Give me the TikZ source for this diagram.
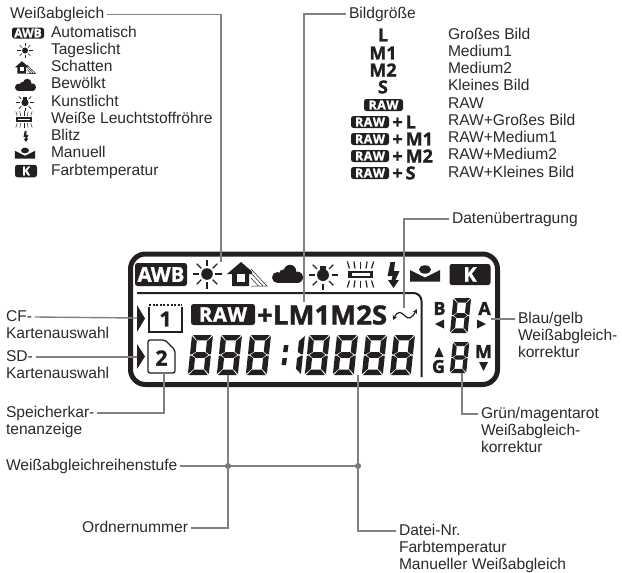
\documentclass[tikz,border=0pt]{standalone}
\usepackage{fontspec}
\usepackage{graphicx}
\setmainfont{Liberation Sans}
\newfontfamily\lcdfont{Open Sans}[BoldFeatures={FakeBold=1.4}]
\definecolor{lcdink}{HTML}{231F20}
\definecolor{leadgrey}{HTML}{808080}
\definecolor{labelink}{HTML}{2A2A2A}
\usetikzlibrary{arrows.meta, positioning}
\newcommand{\segA}{\fill (1,0)--(19,0)--(14.6,5.4)--(5.4,5.4)--cycle;}
\newcommand{\segB}{\fill (20,1)--(20,19)--(18.6,19.5)--(14.8,16.9)--(14.8,6.2)--cycle;}
\newcommand{\segC}{\fill (20,21)--(20,39)--(14.8,33.8)--(14.8,23.1)--(18.6,20.5)--cycle;}
\newcommand{\segD}{\fill (1,40)--(19,40)--(14.6,34.6)--(5.4,34.6)--cycle;}
\newcommand{\segE}{\fill (0,21)--(0,39)--(5.2,33.8)--(5.2,23.1)--(1.4,20.5)--cycle;}
\newcommand{\segF}{\fill (0,1)--(0,19)--(1.4,19.5)--(5.2,16.9)--(5.2,6.2)--cycle;}
\newcommand{\segG}{\fill (2.4,20)--(5.9,17.2)--(14.1,17.2)--(17.6,20)--(14.1,22.8)--(5.9,22.8)--cycle;}
\newcommand{\rawword}{R\kern.04em A\kern.04em W}
\begin{document}
\begin{tikzpicture}[
  x=1pt, y=-1pt,
  lbl/.style={
    font=\fontsize{15.6}{17}\selectfont, text=labelink,
    inner ysep=0pt, inner xsep=0pt, outer xsep=3pt, outer ysep=0pt,
    text height=11.4pt, text depth=3.2pt, minimum height=17.25pt, anchor=west
  },
  under/.style={lbl, below=0pt of #1.south west, anchor=north west},
  lcdtxt/.style={
    font=\lcdfont\bfseries\fontsize{#1}{#1}\selectfont,
    inner sep=0pt, text=lcdink
  },
  inverse/.style={
    rectangle, rounded corners=2.5pt, fill=lcdink, text=white,
    inner sep=0pt, font=\lcdfont\bfseries\fontsize{#1}{#1}\selectfont
  },
  lead/.style={leadgrey, line width=1.4pt},
  joint/.style={circle, fill=leadgrey!85!black, inner sep=0pt, minimum size=6pt},
  pics/lcdeight/.style={code={
    \begin{scope}[xslant=0.1, fill=lcdink]
      \segA \segB \segC \segD \segE \segF \segG
    \end{scope}}},
  pics/lcdone/.style={code={
    \begin{scope}[xslant=0.1, fill=lcdink]
      \segB \segC
    \end{scope}}},
  pics/sunicon/.style={code={
    \fill[lcdink] (0,0) circle (5.8);
    \foreach \a in {0,45,...,315}
      \draw[lcdink] (\a:8) -- (\a:14.5);}},
  pics/bulbicon/.style={code={
    \fill[lcdink] (0,1) circle (6);
    \fill[lcdink] (-2.8,-8) rectangle (2.8,0);
    \foreach \a in {-45,0,45,90,135,180,225}
      \draw[lcdink] ([shift={(0,1)}]\a:8.5) -- ([shift={(0,1)}]\a:14.5);}},
  pics/houseicon/.style={code={
    \fill[lcdink] (-14,-1)--(0,-13)--(11,-3.5)--(11,-1)--(8,-1)--(8,11)--(-9,11)--(-9,-1)--cycle;
    \fill[white] (-4.5,-1) rectangle (3.5,6.5);
    \draw[lcdink, line width=.5pt] (10,-6)--(26,11)--(10,11) (10,-2)--(22,11) (10,3)--(17.5,11);}},
  pics/cloudicon/.style={code={
    \fill[lcdink] (2.5,-3) circle (6.2);
    \fill[lcdink] (-4,0) circle (4.6);
    \fill[lcdink] (-10,3.5) circle (5.5);
    \fill[lcdink] (9.8,3.3) circle (5.7);
    \fill[lcdink] (-10,1) rectangle (9.8,9);}},
  pics/tubeicon/.style={code={
    \draw[lcdink, fill=white, line width=1.2pt] (-12,-2.5) rectangle (12,2.5);
    \fill[lcdink] (-12,-2.5) rectangle (-9,2.5);
    \fill[lcdink] (9,-2.5) rectangle (12,2.5);
    \foreach \a in {-11,-5.5,0,5.5,11}
      \draw[lcdink] (\a,-6) -- (\a*1.2,-13) (\a,6) -- (\a*1.2,13);}},
  pics/flashicon/.style={code={
    \fill[lcdink] (-3,-13)--(-6,1)--(-1,1)--(-2,5)--(-5.5,5)--(0,13)--(5.5,5)--(2,5)--(6,-4)--(0.5,-4)--(1.5,-13)--cycle;}},
  pics/manualicon/.style={code={
    \fill[lcdink] (0,-4.5) ellipse (6 and 4.2);
    \fill[lcdink] (-15,-4)--(0,3.5)--(15,-4)--(15,7.5)--(-15,7.5)--cycle;}}
]
  \useasboundingbox (0,0) rectangle (622,573);

  % white balance list
  \node[lbl] (wb) at (7,14.5) {Weißabgleich};
  \node[lbl] (wb1) at (48,33) {Automatisch};
  \node[under=wb1] (wb2) {Tageslicht};
  \node[under=wb2] (wb3) {Schatten};
  \node[under=wb3] (wb4) {Bewölkt};
  \node[under=wb4] (wb5) {Kunstlicht};
  \node[under=wb5] (wb6) {Weiße Leuchtstoffröhre};
  \node[under=wb6] (wb7) {Blitz};
  \node[under=wb7] (wb8) {Manuell};
  \node[under=wb8] (wb9) {Farbtemperatur};
  \node[inverse=12, minimum width=32pt, minimum height=11pt] (awbsmall) at (28,33) {AWB};
  \pic[scale=.52, line width=.6pt] at (25,50.5) {sunicon};
  \pic[scale=.52, line width=.4pt] at (22,68) {houseicon};
  \pic[scale=.68] at (25.5,85) {cloudicon};
  \pic[scale=.6, line width=.7pt] at (25,102) {bulbicon};
  \pic[scale=.62, line width=.5pt] at (24,119.5) {tubeicon};
  \pic[scale=.42] at (26,136.5) {flashicon};
  \pic[scale=.67] at (25,153.5) {manualicon};
  \node[inverse=12, minimum width=22pt, minimum height=12.5pt] (ksmall) at (26,171) {K};

  % image size list
  \node[lbl] (bg) at (346,14) {Bildgröße};
  \node[lbl] (bg1) at (445,35) {Großes Bild};
  \node[under=bg1] (bg2) {Medium1};
  \node[under=bg2] (bg3) {Medium2};
  \node[under=bg3] (bg4) {Kleines Bild};
  \node[under=bg4] (bg5) {RAW};
  \node[under=bg5] (bg6) {RAW+Großes Bild};
  \node[under=bg6] (bg7) {RAW+Medium1};
  \node[under=bg7] (bg8) {RAW+Medium2};
  \node[under=bg8] (bg9) {RAW+Kleines Bild};
  \node[lcdtxt=18] (sl) at (383,35) {L};
  \node[lcdtxt=18] (sm1) at (383,53) {M1};
  \node[lcdtxt=18] (sm2) at (383,70) {M2};
  \node[lcdtxt=18] (ss) at (383,87) {S};
  \node[inverse=12.5, minimum width=39pt, minimum height=12pt] (sraw) at (383.5,105) {\rawword};
  \node[inverse=12.5, minimum width=38pt, minimum height=12pt] (rawl) at (370,122) {\rawword};
  \node[inverse=12.5, minimum width=38pt, minimum height=12pt] (rawm1) at (370,139) {\rawword};
  \node[inverse=12.5, minimum width=38pt, minimum height=12pt] (rawm2) at (370,156) {\rawword};
  \node[inverse=12.5, minimum width=38pt, minimum height=12pt] (raws) at (370,173) {\rawword};
  \node[lcdtxt=18, right=3pt of rawl] (pl) {+\,L};
  \node[lcdtxt=18, right=3pt of rawm1] (pm1) {+\,M1};
  \node[lcdtxt=18, right=3pt of rawm2] (pm2) {+\,M2};
  \node[lcdtxt=18, right=3pt of raws] (ps) {+\,S};

  % display
  \draw[lcdink, line width=5pt, rounded corners=15pt] (130.5,254) rectangle (497.5,384.5);
  \draw[lcdink, line width=2pt, rounded corners=8pt] (137,293) -- (421.5,293) -- (421.5,377);
  \node[inverse=20.5, minimum width=52pt, minimum height=23pt] (awb) at (161,274.5) {AWB};
  \pic[line width=1.4pt] at (207,274) {sunicon};
  \pic[line width=.6pt] at (241,275) {houseicon};
  \pic at (287.5,274) {cloudicon};
  \pic[line width=1.4pt] at (323,274) {bulbicon};
  \pic[line width=1.2pt] at (360.5,274.5) {tubeicon};
  \pic at (393.5,275) {flashicon};
  \pic at (425,274) {manualicon};
  \node[inverse=20, minimum width=41pt, minimum height=21pt] (kbox) at (470,274.5) {K};
  \fill[lcdink] (137,305) -- (145,318.5) -- (137,332) -- cycle;
  \fill[lcdink] (137,344) -- (145,356.5) -- (137,369) -- cycle;
  \draw[lcdink, line width=1.3pt] (149,307) -- (149,332) -- (182,332) -- (182,307);
  \draw[lcdink, line width=1.6pt, dash pattern=on 2pt off 1.6pt] (149,305) -- (182,305);
  \node[lcdtxt=21] (card1) at (165.5,319) {1};
  \draw[lcdink, line width=1.3pt, rounded corners=2pt] (148,340) -- (165,340) -- (175,350) -- (175,373) -- (148,373) -- cycle;
  \node[lcdtxt=21] (card2) at (161.5,358) {2};
  \node[inverse=20, minimum width=64pt, minimum height=21pt] (raw) at (223,314.5) {\rawword};
  \node[lcdtxt=26.5, anchor=base west] (size) at (257,324.5) {\scalebox{1.04}[1]{+LM1M2S}};
  \draw[lcdink, line width=1.2pt, {Stealth[length=4.5pt,width=4.5pt]}-{Stealth[length=4.5pt,width=4.5pt]}] (393,320) .. controls (398,310) and (401,312) .. (405,316) .. controls (409,320) and (412,318) .. (417,309);
  \foreach \x in {192,221,250,309,337,366,394}
    \pic[xscale=1.05] at (\x,335) {lcdeight};
  \pic[xscale=1.05] at (284,335) {lcdone};
  \fill[lcdink] (284,345) -- (288.5,345) -- (287.5,352) -- (283,352) -- cycle;
  \fill[lcdink] (282.5,358) -- (287,358) -- (286,365) -- (281.5,365) -- cycle;
  \pic[xscale=.88, yscale=.875] at (453.5,298) {lcdeight};
  \pic[xscale=.82, yscale=.775] at (453,342) {lcdeight};
  \node[lcdtxt=18] (lb) at (439.5,308.5) {B};
  \node[lcdtxt=18] (la) at (484.5,308.5) {A};
  \node[lcdtxt=18] (lg) at (438.5,366.5) {G};
  \node[lcdtxt=18] (lm) at (483.5,351.5) {M};
  \fill[lcdink] (444,319.5) -- (435,324) -- (444,328.5) -- cycle;
  \fill[lcdink] (477,319.5) -- (486,324) -- (477,328.5) -- cycle;
  \fill[lcdink] (439,347) -- (434.5,357) -- (443.5,357) -- cycle;
  \fill[lcdink] (479,362) -- (488,362) -- (483.5,371) -- cycle;

  % labels round the display
  \node[lbl] (cf) at (3,317) {CF-};
  \node[under=cf] (cfb) {Kartenauswahl};
  \node[lbl] (sd) at (3,357) {SD-};
  \node[under=sd] (sdb) {Kartenauswahl};
  \node[lbl] (sp) at (3,413) {Speicherkar-};
  \node[under=sp] (spb) {tenanzeige};
  \node[lbl] (ws) at (3,466) {Weißabgleichreihenstufe};
  \node[lbl, anchor=east] (on) at (191,528) {Ordnernummer};
  \node[lbl] (du) at (449,219) {Datenübertragung};
  \node[lbl] (by) at (515,319) {Blau/gelb};
  \node[under=by] (byb) {Weißabgleich-};
  \node[under=byb] (byc) {korrektur};
  \node[lbl] (gm) at (478,414) {Grün/magentarot};
  \node[under=gm] (gmb) {Weißabgleich-};
  \node[under=gmb] (gmc) {korrektur};
  \node[lbl] (dn) at (396,531) {Datei-Nr.};
  \node[under=dn] (dnb) {Farbtemperatur};
  \node[under=dnb] (dnc) {Manueller Weißabgleich};

  \coordinate (sunend) at (221,262);
  \coordinate (sizeend) at (304,302);
  \coordinate (waveend) at (404,308);
  \coordinate (arrowcf) at (137,318);
  \coordinate (arrowsd) at (137,357);
  \coordinate (cardend) at (164,373);
  \coordinate (folderend) at (228,375);
  \coordinate (fileend) at (358,375);
  \coordinate (abend) at (491,319);
  \coordinate (gmend) at (462,373);
  \node[joint] (j1) at (228,466) {};
  \node[joint] (j2) at (358,466) {};

  \draw[lead] (wb.east) -| (sunend);
  \draw[lead] (bg.west) -| (sizeend);
  \draw[lead] (du.west) -| (waveend);
  \draw[lead] (cf.east) -- (arrowcf);
  \draw[lead] (sd.east) -- (arrowsd);
  \draw[lead] (sp.east) -| (cardend);
  \draw[lead] (ws.east) -- (j1) -- (j2);
  \draw[lead] (on.east) -| (folderend);
  \draw[lead] (dn.west) -| (fileend);
  \draw[lead] (by.west) -- (abend);
  \draw[lead] (gm.west) -| (gmend);
\end{tikzpicture}
\end{document}
